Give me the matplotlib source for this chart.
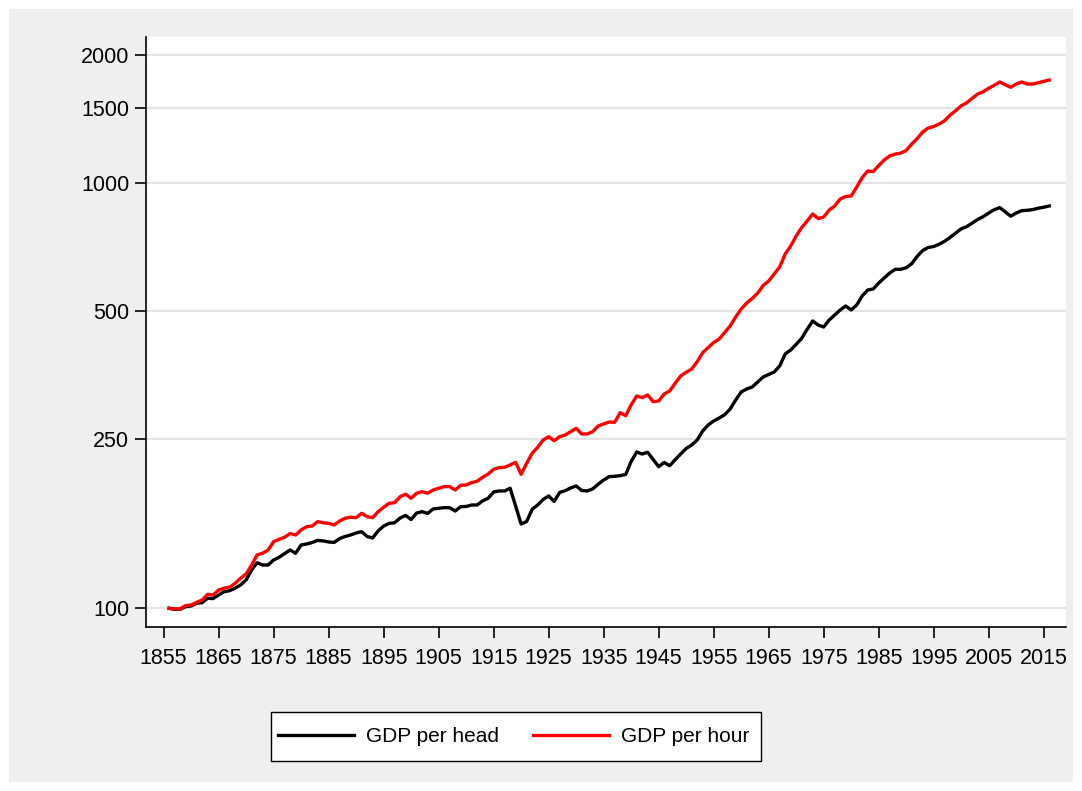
import matplotlib
matplotlib.use('Agg')
import matplotlib.pyplot as plt
from matplotlib.patches import Rectangle
from matplotlib.ticker import FixedLocator, NullLocator

plt.rcParams['font.family'] = ['Liberation Sans', 'DejaVu Sans']

years = list(range(1856, 2017))

# GDP per head, index 1856 = 100
gdp_head = [
    99.8, 99.3, 99.3, 100.7, 101.1, 102.6, 102.9, 105.4, 105.2, 107.3,
    109.2, 109.8, 111.3, 113.3, 116.4, 122.9, 127.8, 126.2, 126.2, 129.7,
    131.6, 134.3, 136.9, 134.5, 140.7, 141.4, 142.6, 144.2, 143.8, 143.0,
    142.6, 145.7, 147.3, 148.5, 150.1, 151.2, 147.3, 146.1, 151.8, 155.9,
    158.1, 158.7, 162.8, 165.1, 161.5, 167.3, 168.5, 166.9, 171.0, 171.6,
    172.2, 172.2, 169.1, 173.1, 173.3, 174.7, 174.7, 178.6, 181.2, 187.5,
    188.5, 188.5, 191.3, 173.8, 157.6, 159.8, 170.7, 174.7, 180.0, 183.5,
    178.1, 187.0, 188.8, 191.6, 193.7, 189.0, 188.5, 190.6, 195.5, 200.1,
    203.7, 204.1, 204.8, 206.1, 221.2, 232.8, 230.3, 232.5, 223.6, 215.0,
    220.0, 216.1, 223.3, 230.3, 237.3, 241.8, 248.5, 260.9, 269.5, 275.4,
    279.9, 285.0, 293.9, 308.6, 322.3, 327.6, 331.1, 340.2, 349.6, 354.3,
    359.2, 371.0, 396.0, 404.6, 417.3, 431.1, 452.7, 473.5, 463.3, 458.3,
    476.0, 489.1, 502.6, 513.6, 502.6, 516.4, 542.2, 560.1, 563.1, 581.7,
    597.7, 614.1, 626.5, 626.5, 632.0, 645.8, 672.3, 693.7, 705.1, 708.9,
    717.8, 729.6, 745.1, 762.7, 780.3, 789.6, 805.2, 820.6, 833.6, 850.0,
    865.3, 875.2, 855.5, 835.4, 850.0, 860.7, 862.5, 865.8, 872.4, 877.1,
    882.9,
]

# GDP per hour worked, index 1856 = 100
gdp_hour = [
    99.8, 99.5, 99.5, 101.3, 101.6, 103.1, 104.4, 107.7, 107.3, 110.2,
    111.3, 111.9, 114.3, 117.5, 120.2, 126.2, 133.3, 134.5, 136.9, 143.2,
    145.1, 146.7, 149.7, 148.5, 152.6, 155.3, 155.9, 159.6, 158.7, 158.2,
    156.8, 160.2, 162.6, 163.5, 163.1, 167.0, 164.0, 163.1, 168.5, 172.6,
    176.3, 176.9, 182.8, 185.2, 181.2, 186.2, 187.8, 186.2, 189.5, 191.3,
    193.0, 193.0, 189.5, 194.4, 194.7, 197.2, 198.7, 203.0, 206.7, 212.0,
    213.9, 214.3, 217.0, 220.2, 206.3, 219.0, 231.2, 238.8, 248.5, 253.0,
    247.5, 253.0, 255.3, 259.9, 264.7, 256.7, 256.7, 259.9, 268.1, 271.0,
    273.9, 273.5, 288.1, 283.4, 300.4, 315.4, 312.5, 317.1, 305.8, 306.9,
    318.8, 324.0, 337.8, 351.5, 358.6, 365.0, 379.8, 398.8, 410.2, 421.4,
    429.5, 444.9, 460.8, 483.9, 505.3, 522.0, 534.9, 551.0, 573.9, 588.1,
    610.8, 634.4, 680.7, 710.8, 750.4, 785.8, 813.9, 845.4, 825.0, 831.8,
    863.9, 882.9, 917.0, 929.5, 932.0, 978.6, 1030, 1067, 1064, 1099,
    1133, 1158, 1170, 1176, 1193, 1235, 1273, 1318, 1347, 1358,
    1377, 1402, 1446, 1480, 1520, 1545, 1582, 1620, 1640, 1671,
    1698, 1729, 1703, 1680, 1710, 1729, 1710, 1710, 1722, 1735,
    1747,
]

yticks = [100, 250, 500, 1000, 1500, 2000]
xticks = list(range(1855, 2016, 10))

W, H = 1082, 791
fig = plt.figure(figsize=(W / 100, H / 100), dpi=100)
fig.patch.set_facecolor('white')
# grey graph region behind the plot
fig.patches.append(Rectangle((9 / W, 9 / H), (W - 18) / W, (H - 18) / H,
                             transform=fig.transFigure, facecolor='#efefef',
                             edgecolor='none', zorder=-5))

ax = fig.add_axes([146 / W, 1 - 627 / H, (1066 - 146) / W, (627 - 37) / H])
ax.set_facecolor('white')

ax.plot(years, gdp_head, color='black', lw=2.4, label='GDP per head')
ax.plot(years, gdp_hour, color='#ff0000', lw=2.4, label='GDP per hour')

ax.set_yscale('log')
ax.set_ylim(90.2, 2206)
ax.set_xlim(1851.8, 2019.05)
ax.yaxis.set_major_locator(FixedLocator(yticks))
ax.yaxis.set_minor_locator(NullLocator())
ax.set_yticklabels([str(t) for t in yticks])
ax.set_xticks(xticks)
ax.set_xticklabels([str(t) for t in xticks])

ax.grid(axis='y', color='#e4e4e4', lw=1.6)
ax.set_axisbelow(True)
for s in ['top', 'right']:
    ax.spines[s].set_visible(False)
for s in ['left', 'bottom']:
    ax.spines[s].set_linewidth(1.2)
ax.tick_params(axis='both', labelsize=15.5, length=8, width=1.2,
               direction='out', colors='black')
ax.tick_params(axis='x', pad=7)
ax.tick_params(axis='y', pad=4)

# legend box drawn separately so it can be taller than the text row
fig.patches.append(Rectangle((271 / W, 1 - 761 / H), 490 / W, 49 / H,
                             transform=fig.transFigure, facecolor='white',
                             edgecolor='black', lw=1.0, zorder=1))
leg = fig.legend(loc='center', bbox_to_anchor=(513.5 / W, 1 - 736.5 / H),
                 ncol=2, frameon=False, fontsize=15, handlelength=3.65,
                 handletextpad=0.58, columnspacing=1.62, borderpad=0.3)
leg.set_zorder(2)

fig.savefig('out.png', dpi=100, facecolor=fig.get_facecolor())
